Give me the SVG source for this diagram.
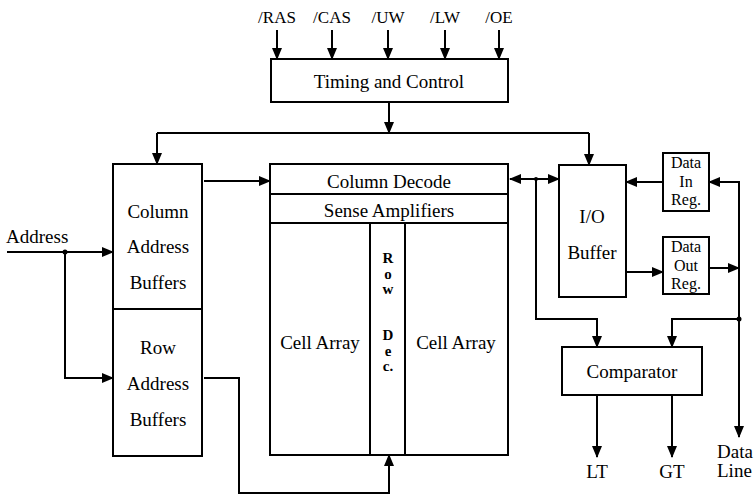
<svg xmlns="http://www.w3.org/2000/svg" width="755" height="497" viewBox="0 0 755 497">
<style>
.box{fill:#fff;stroke:#000;stroke-width:2}
.ln{fill:none;stroke:#000;stroke-width:2}
text{font-family:'Liberation Serif','Times New Roman','DejaVu Serif',serif;font-size:19px;fill:#000;text-anchor:middle}
.s{font-size:17px}
.d{font-size:16px}
.r{font-size:15px;font-weight:bold}
.l{text-anchor:start}
</style>
<defs>
<marker id="ah" markerUnits="userSpaceOnUse" markerWidth="12" markerHeight="10" refX="11" refY="5" orient="auto">
<path d="M0,0 L12,5 L0,10 Z" fill="#000"/>
</marker>
<marker id="ahs" markerUnits="userSpaceOnUse" markerWidth="12" markerHeight="10" refX="1" refY="5" orient="auto">
<path d="M12,0 L0,5 L12,10 Z" fill="#000"/>
</marker>
</defs>
<rect width="755" height="497" fill="#fff"/>

<g id="connectors">
<line class="ln" x1="277" y1="30" x2="277" y2="59" marker-end="url(#ah)"/>
<line class="ln" x1="332" y1="30" x2="332" y2="59" marker-end="url(#ah)"/>
<line class="ln" x1="388" y1="30" x2="388" y2="59" marker-end="url(#ah)"/>
<line class="ln" x1="445" y1="30" x2="445" y2="59" marker-end="url(#ah)"/>
<line class="ln" x1="499" y1="30" x2="499" y2="59" marker-end="url(#ah)"/>
<line class="ln" x1="389" y1="102" x2="389" y2="133" marker-end="url(#ah)"/>
<line class="ln" x1="157" y1="133" x2="589" y2="133"/>
<line class="ln" x1="157" y1="133" x2="157" y2="164" marker-end="url(#ah)"/>
<line class="ln" x1="589" y1="133" x2="589" y2="165" marker-end="url(#ah)"/>
<line class="ln" x1="7" y1="252" x2="113" y2="252" marker-end="url(#ah)"/>
<polyline class="ln" points="65,252 65,378 113,378" marker-end="url(#ah)"/>
<circle cx="65" cy="252" r="2.5" fill="#000"/>
<line class="ln" x1="204" y1="181" x2="270" y2="181" marker-end="url(#ah)"/>
<polyline class="ln" points="204,378 239,378 239,493 389,493 389,455" marker-end="url(#ah)"/>
<line class="ln" x1="510" y1="179" x2="559" y2="179" marker-start="url(#ahs)" marker-end="url(#ah)"/>
<circle cx="536" cy="179" r="2" fill="#000"/>
<polyline class="ln" points="536,179 536,319 597,319 597,347" marker-end="url(#ah)"/>
<line class="ln" x1="663" y1="182" x2="626" y2="182" marker-end="url(#ah)"/>
<line class="ln" x1="626" y1="272" x2="663" y2="272" marker-end="url(#ah)"/>
<line class="ln" x1="709" y1="268" x2="739" y2="268" marker-end="url(#ah)"/>
<polyline class="ln" points="739,437 739,182 709,182" marker-start="url(#ahs)" marker-end="url(#ah)"/>
<circle cx="739" cy="319" r="2.5" fill="#000"/>
<polyline class="ln" points="739,319 672,319 672,347" marker-end="url(#ah)"/>
<line class="ln" x1="597" y1="395" x2="597" y2="457" marker-end="url(#ah)"/>
<line class="ln" x1="672" y1="395" x2="672" y2="457" marker-end="url(#ah)"/>
</g>

<g id="inputs">
<text class="s" x="277" y="23">/RAS</text>
<text class="s" x="332" y="23">/CAS</text>
<text class="s" x="388" y="23">/UW</text>
<text class="s" x="445" y="23">/LW</text>
<text class="s" x="499" y="23">/OE</text>
<text class="l" x="6" y="243">Address</text>
</g>

<g id="timing">
<rect class="box" x="271" y="59" width="237" height="43"/>
<text x="389" y="88">Timing and Control</text>
</g>

<g id="addr-buffers">
<rect class="box" x="113" y="164" width="89" height="292"/>
<line class="ln" x1="113" y1="309" x2="202" y2="309"/>
<text x="158" y="218">Column</text>
<text x="158" y="253">Address</text>
<text x="158" y="289">Buffers</text>
<text x="158" y="354">Row</text>
<text x="158" y="390">Address</text>
<text x="158" y="426">Buffers</text>
</g>

<g id="memory-array">
<rect class="box" x="270" y="164" width="238" height="291"/>
<line class="ln" x1="270" y1="194" x2="508" y2="194"/>
<line class="ln" x1="270" y1="223" x2="508" y2="223"/>
<line class="ln" x1="370" y1="223" x2="370" y2="455"/>
<line class="ln" x1="405" y1="223" x2="405" y2="455"/>
<text x="389" y="188">Column Decode</text>
<text x="389" y="217">Sense Amplifiers</text>
<text x="320" y="349">Cell Array</text>
<text x="456" y="349">Cell Array</text>
<text class="r" x="388" y="263">R</text>
<text class="r" x="388" y="279">o</text>
<text class="r" x="388" y="294">w</text>
<text class="r" x="388" y="340">D</text>
<text class="r" x="388" y="356">e</text>
<text class="r" x="388" y="371">c.</text>
</g>

<g id="io-buffer">
<rect class="box" x="559" y="165" width="67" height="132"/>
<text x="592" y="223">I/O</text>
<text x="592" y="259">Buffer</text>
</g>

<g id="data-in-reg">
<rect class="box" x="663" y="153" width="46" height="58"/>
<text class="d" x="686" y="168">Data</text>
<text class="d" x="686" y="187">In</text>
<text class="d" x="686" y="205">Reg.</text>
</g>

<g id="data-out-reg">
<rect class="box" x="663" y="237" width="46" height="57"/>
<text class="d" x="686" y="252">Data</text>
<text class="d" x="686" y="271">Out</text>
<text class="d" x="686" y="289">Reg.</text>
</g>

<g id="comparator">
<rect class="box" x="562" y="347" width="140" height="48"/>
<text x="632" y="378">Comparator</text>
</g>

<g id="outputs">
<text x="597" y="478">LT</text>
<text x="672" y="478">GT</text>
<text class="l" x="717" y="458">Data</text>
<text class="l" x="717" y="477">Line</text>
</g>
</svg>
